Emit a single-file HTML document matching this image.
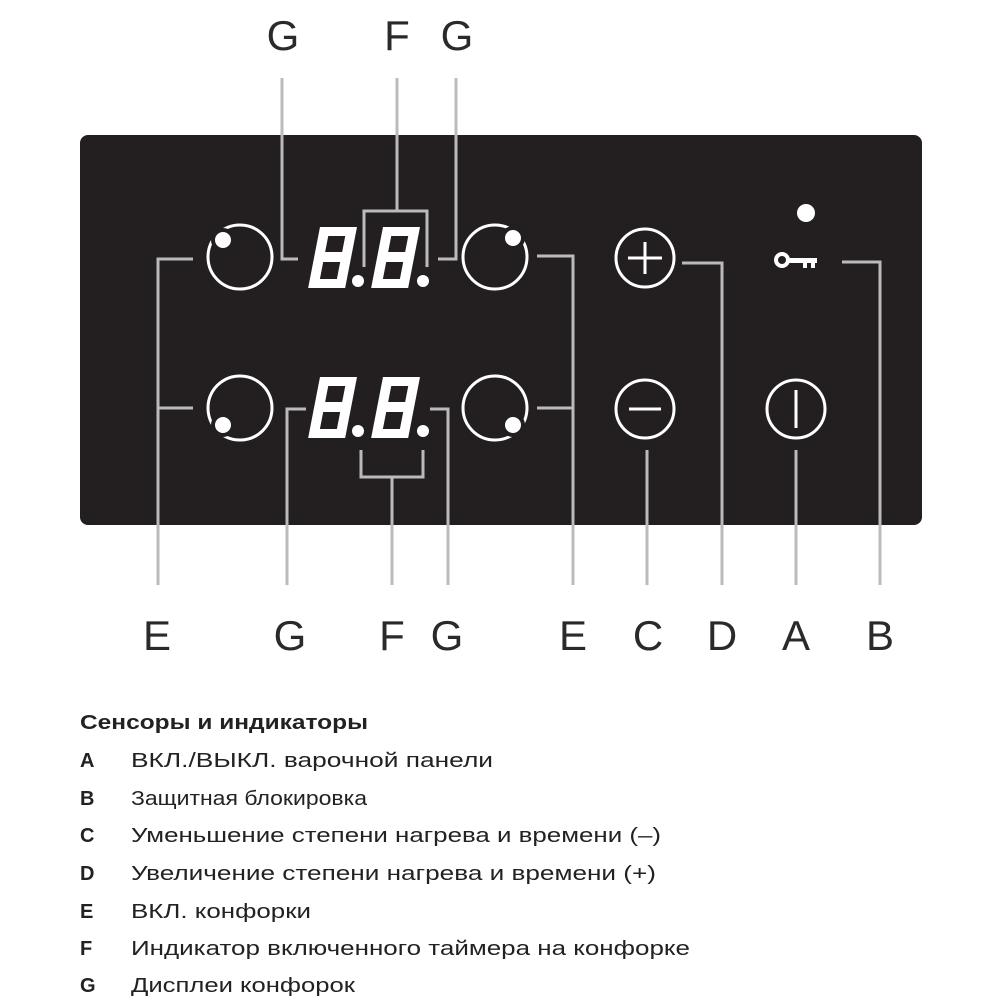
<!DOCTYPE html>
<html><head><meta charset="utf-8"><style>
html,body{margin:0;padding:0;background:#fff;}
svg{display:block}
</style></head><body>
<svg width="1000" height="1000" viewBox="0 0 1000 1000" xmlns="http://www.w3.org/2000/svg">
<rect x="80" y="135" width="842" height="390" rx="8" fill="#231f20"/>
<g fill="none" stroke="#fff" stroke-width="3">
<circle cx="240" cy="257" r="32"/>
<circle cx="495" cy="257" r="32"/>
<circle cx="240" cy="408" r="32"/>
<circle cx="495" cy="408" r="32"/>
<circle cx="645" cy="258" r="29"/>
<circle cx="645" cy="409" r="29"/>
<circle cx="796" cy="409" r="29"/>
<line x1="628" y1="258" x2="662" y2="258"/>
<line x1="629" y1="409" x2="661" y2="409"/>
<line x1="796" y1="390" x2="796" y2="428"/>
</g>
<g fill="#fff" stroke="#231f20" stroke-width="4">
<circle cx="223" cy="240" r="10"/>
<circle cx="513" cy="238" r="10"/>
<circle cx="223" cy="425" r="10"/>
<circle cx="513" cy="425" r="10"/>
</g>
<line x1="645" y1="242" x2="645" y2="274" stroke="#fff" stroke-width="3"/>
<!-- key -->
<circle cx="806" cy="213" r="9" fill="#fff"/>
<circle cx="782" cy="260" r="6" fill="none" stroke="#fff" stroke-width="4"/>
<rect x="787" y="258" width="30" height="5" fill="#fff"/>
<rect x="803" y="258" width="4" height="10" fill="#fff"/>
<rect x="811" y="258" width="4" height="10" fill="#fff"/>
<!-- digits -->
<g fill="#fff" fill-rule="evenodd">
<path transform="translate(320,227) skewX(-11)" d="M0 0H37V61H0Z M10 9H27V25H10Z M10 35H27V52H10Z"/>
<path transform="translate(383,227) skewX(-11)" d="M0 0H37V61H0Z M10 9H27V25H10Z M10 35H27V52H10Z"/>
<path transform="translate(320,377) skewX(-11)" d="M0 0H37V61H0Z M10 9H27V25H10Z M10 35H27V52H10Z"/>
<path transform="translate(383,377) skewX(-11)" d="M0 0H37V61H0Z M10 9H27V25H10Z M10 35H27V52H10Z"/>
<circle cx="358" cy="281" r="6"/><circle cx="423" cy="281" r="6"/>
<circle cx="358" cy="431" r="6"/><circle cx="423" cy="431" r="6"/>
</g>
<!-- connectors -->
<g fill="none" stroke="#bbb" stroke-width="3">
<polyline points="282,78 282,259 298,259"/>
<polyline points="397,78 397,211"/>
<polyline points="364,267 364,211 427,211 427,267"/>
<polyline points="456,78 456,259 438,259"/>
<polyline points="193,259 158,259 158,585"/>
<polyline points="193,408 158,408"/>
<polyline points="537,256 573,256 573,585"/>
<polyline points="537,408 573,408"/>
<polyline points="306,409 287,409 287,585"/>
<polyline points="430,409 448,409 448,585"/>
<polyline points="361,450 361,477 423,477 423,450"/>
<polyline points="392,477 392,585"/>
<polyline points="682,263 722,263 722,585"/>
<polyline points="647,450 647,585"/>
<polyline points="796,450 796,585"/>
<polyline points="842,262 880,262 880,585"/>
</g>
<g font-family="Liberation Sans, sans-serif" font-size="42" fill="#2a2a2a" text-anchor="middle">
<text x="283" y="50">G</text><text x="397" y="50">F</text><text x="457" y="50">G</text>
<text x="157" y="650">E</text><text x="290" y="650">G</text><text x="392" y="650">F</text><text x="447" y="650">G</text>
<text x="573" y="650">E</text><text x="648" y="650">C</text><text x="722" y="650">D</text><text x="796" y="650">A</text><text x="880" y="650">B</text>
</g>
<g font-family="Liberation Sans, sans-serif" font-size="20" fill="#222">
<text x="80" y="729" font-weight="bold" textLength="288" lengthAdjust="spacingAndGlyphs">Сенсоры и индикаторы</text>
<g font-weight="bold">
<text x="80" y="767">A</text><text x="80" y="805">B</text><text x="80" y="842">C</text><text x="80" y="880">D</text><text x="80" y="918">E</text><text x="80" y="955">F</text><text x="80" y="992">G</text>
</g>
<text x="131" y="767" textLength="362" lengthAdjust="spacingAndGlyphs">ВКЛ./ВЫКЛ. варочной панели</text>
<text x="131" y="805" textLength="236" lengthAdjust="spacingAndGlyphs">Защитная блокировка</text>
<text x="131" y="842" textLength="530" lengthAdjust="spacingAndGlyphs">Уменьшение степени нагрева и времени (–)</text>
<text x="131" y="880" textLength="525" lengthAdjust="spacingAndGlyphs">Увеличение степени нагрева и времени (+)</text>
<text x="131" y="918" textLength="180" lengthAdjust="spacingAndGlyphs">ВКЛ. конфорки</text>
<text x="131" y="955" textLength="559" lengthAdjust="spacingAndGlyphs">Индикатор включенного таймера на конфорке</text>
<text x="131" y="992" textLength="224" lengthAdjust="spacingAndGlyphs">Дисплеи конфорок</text>
</g>
</svg>
</body></html>
